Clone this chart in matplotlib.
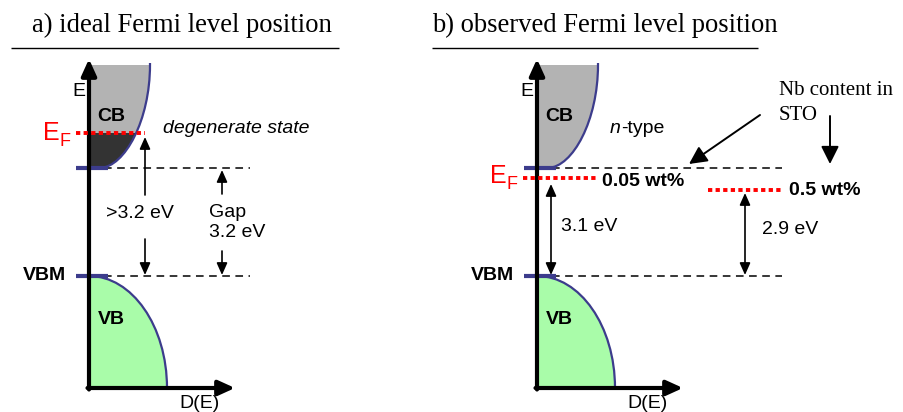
import matplotlib.pyplot as plt
from matplotlib.path import Path
from matplotlib.patches import PathPatch, Rectangle

# schematic frame in pixel units of the original picture (y grows downwards)
W, H = 904, 412

panel_x = [89, 537]            # x of the energy axis in each panel
axis_top, axis_bottom = 59, 388
axis_len = 146                 # length of the D(E) axis
cbm_y, vbm_y = 168, 276        # conduction band minimum / valence band maximum
cb_top = 65
cb_ctrl = [(61, cb_top), (61, 120), (36, 167), (11, cbm_y)]   # CB edge, x relative to axis
vb_width = 78
dash_end = [250, 782]

titles = ['a) ideal Fermi level position', 'b) observed Fermi level position']
title_x = [32, 432]
underline = [(11, 339), (432, 758)]

# Fermi levels: (y, x start, x end)
ef_lines = [(133, 76, 145), (178, 523, 596), (190, 708, 781)]
ef_labels = [(43, 133), (490, 176)]
wt_labels = ['0.05 wt%', '0.5 wt%']
wt_pos = [(602, 181), (789, 190)]

# measurement arrows: (x, y_from, y_to)
arrows = [(145, 195, 137), (145, 239, 275), (222, 194, 170), (222, 251, 275)]
double_arrows = [(551, 184, 275), (745, 193, 275)]

sans = 'Liberation Sans'
serif = 'Liberation Serif'
blue = '#3c3c8c'

fig = plt.figure(figsize=(W / 100, H / 100), dpi=100)
ax = fig.add_axes([0, 0, 1, 1])
ax.set_xlim(0, W)
ax.set_ylim(H, 0)
ax.axis('off')

axis_arrow = dict(arrowstyle='-|>,head_length=0.55,head_width=0.25',
                  lw=3, color='k', shrinkA=0, shrinkB=0, mutation_scale=18)

for i, x0 in enumerate(panel_x):
    # conduction band
    verts = [(x0, cb_top)] + [(x0 + dx, y) for dx, y in cb_ctrl] + [(x0, cbm_y), (x0, cb_top)]
    codes = [Path.MOVETO, Path.LINETO, Path.CURVE4, Path.CURVE4, Path.CURVE4,
             Path.LINETO, Path.CLOSEPOLY]
    ax.add_patch(PathPatch(Path(verts, codes), fc='#b3b3b3', ec='none', zorder=1))
    if i == 0:
        dark = PathPatch(Path(verts, codes), fc='#333333', ec='none', zorder=1.5)
        ax.add_patch(dark)
        clip = Rectangle((0, ef_lines[0][0]), W, cbm_y - ef_lines[0][0], transform=ax.transData)
        dark.set_clip_path(clip)
    edge = Path([(x0 + 61, cb_top - 2)] + [(x0 + dx, y) for dx, y in cb_ctrl],
                [Path.MOVETO, Path.LINETO, Path.CURVE4, Path.CURVE4, Path.CURVE4])
    ax.add_patch(PathPatch(edge, fc='none', ec=blue, lw=1.6, zorder=3))

    # valence band, quarter ellipse
    k = 0.5523
    b = axis_bottom - vbm_y
    vverts = [(x0, vbm_y), (x0 + k * vb_width, vbm_y), (x0 + vb_width, axis_bottom - k * b),
              (x0 + vb_width, axis_bottom), (x0, axis_bottom), (x0, vbm_y)]
    vcodes = [Path.MOVETO, Path.CURVE4, Path.CURVE4, Path.CURVE4, Path.LINETO, Path.CLOSEPOLY]
    ax.add_patch(PathPatch(Path(vverts, vcodes), fc='#a9fca9', ec='none', zorder=1))
    ax.add_patch(PathPatch(Path(vverts[:4], vcodes[:4]), fc='none', ec=blue, lw=1.6, zorder=3))

    # band edge bars and dashed levels
    for y in (cbm_y, vbm_y):
        ax.plot([x0 - 13, x0 + 19], [y, y], color=blue, lw=3, solid_capstyle='butt', zorder=4)
        ax.plot([x0 + 15, dash_end[i]], [y, y], color='k', lw=1.1,
                linestyle=(0, (5, 3.6)), zorder=2)

    # axes
    ax.annotate('', xy=(x0, axis_top), xytext=(x0, axis_bottom + 1.5),
                arrowprops=axis_arrow, zorder=5)
    ax.annotate('', xy=(x0 + axis_len, axis_bottom), xytext=(x0 - 1.5, axis_bottom),
                arrowprops=axis_arrow, zorder=5)

    # labels
    ax.text(x0 - 17, 91, 'E', fontsize=14, family=sans, va='center', ha='left')
    ax.text(x0 + 8, 116, 'CB', fontsize=14, family=sans, weight='bold', va='center', ha='left')
    ax.text(x0 + 9, 319, 'VB', fontsize=14, family=sans, weight='bold', va='center', ha='left')
    ax.text(x0 - 23, vbm_y, 'VBM', fontsize=14, family=sans, weight='bold', va='center', ha='right')
    ax.text(x0 + 90, 403, 'D(E)', fontsize=14, family=sans, va='center', ha='left')

    # titles
    ax.text(title_x[i], 25, titles[i], fontsize=19.2, family=serif, va='center', ha='left')
    ax.plot(underline[i], [48, 48], color='k', lw=1, solid_capstyle='butt')

    ex, ey = ef_labels[i]
    ax.text(ex, ey, 'E', fontsize=18, family=sans, color='red', va='center', ha='left')
    ax.text(ex + 17, ey + 8, 'F', fontsize=13, family=sans, color='red', va='center', ha='left')

# Fermi levels
for y, xa, xb in ef_lines:
    ax.plot([xa, xb], [y, y], color='red', lw=2.8, linestyle=(0, (1.1, 0.85)),
            dash_capstyle='butt', zorder=6)
for lab, (x, y) in zip(wt_labels, wt_pos):
    ax.text(x, y, lab, fontsize=14, family=sans, weight='bold', va='center', ha='left')

small = dict(arrowstyle='-|>,head_length=0.45,head_width=0.2', color='k', lw=1.2,
             shrinkA=0, shrinkB=0, mutation_scale=16)
for x, y0, y1 in arrows:
    ax.annotate('', xy=(x, y1), xytext=(x, y0), arrowprops=small)
both = dict(small, arrowstyle='<|-|>,head_length=0.45,head_width=0.2')
for x, y0, y1 in double_arrows:
    ax.annotate('', xy=(x, y1), xytext=(x, y0), arrowprops=both)

big = dict(arrowstyle='-|>,head_length=0.6,head_width=0.3', color='k', lw=1.4,
           shrinkA=0, shrinkB=0, mutation_scale=18)
ax.annotate('', xy=(689, 164), xytext=(760, 115), arrowprops=big)
ax.annotate('', xy=(830, 164), xytext=(830, 116), arrowprops=big)

ax.text(163, 128, 'degenerate state', fontsize=14, family=sans, style='italic', va='center')
ax.text(106, 213, '>3.2 eV', fontsize=14, family=sans, va='center')
ax.text(209, 212, 'Gap', fontsize=14, family=sans, va='center')
ax.text(209, 232, '3.2 eV', fontsize=14, family=sans, va='center')
ax.text(610, 128, 'n', fontsize=14, family=sans, style='italic', va='center')
ax.text(621, 128, '-type', fontsize=14, family=sans, va='center')
ax.text(561, 226, '3.1 eV', fontsize=14, family=sans, va='center')
ax.text(762, 229, '2.9 eV', fontsize=14, family=sans, va='center')
ax.text(779, 90, 'Nb content in', fontsize=15, family=serif, va='center')
ax.text(779, 115, 'STO', fontsize=15, family=serif, va='center')

fig.savefig('out.png', dpi=100)
